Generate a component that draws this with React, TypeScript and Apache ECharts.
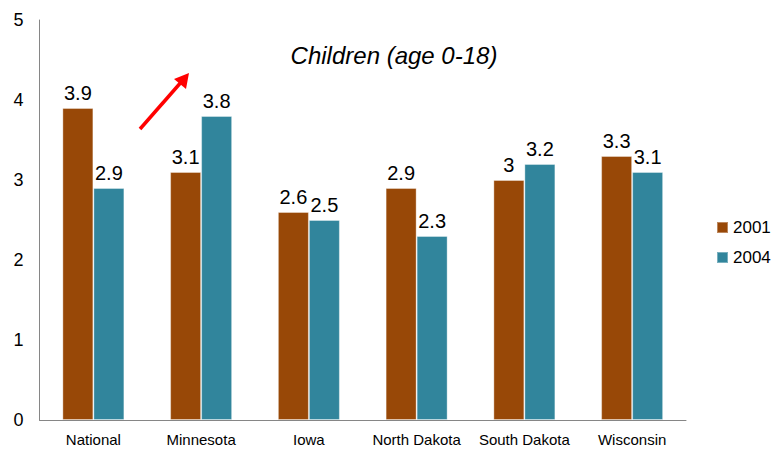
import React, { useEffect, useRef } from "react";
import * as echarts from "echarts";

const categories = ["National", "Minnesota", "Iowa", "North Dakota", "South Dakota", "Wisconsin"];
const values2001 = [3.9, 3.1, 2.6, 2.9, 3.0, 3.3];
const values2004 = [2.9, 3.8, 2.5, 2.3, 3.2, 3.1];
const seriesNames = ["2001", "2004"];
const titleText = "Children (age 0-18)";

const FONT = "'Liberation Sans', Arial, sans-serif";

export default function App() {
  const ref = useRef<HTMLDivElement>(null);
  useEffect(() => {
    if (!ref.current) return;
    const chart = echarts.init(ref.current, null, { renderer: "svg" });
    const label = {
      show: true,
      position: "top",
      distance: 5,
      fontSize: 20,
      fontFamily: FONT,
      color: "#000",
      formatter: (p: any) => String(p.value),
    };
    chart.setOption({
      animation: false,
      backgroundColor: "#fff",
      title: {
        text: titleText,
        left: 389,
        top: 38,
        textAlign: "center",
        textStyle: { fontSize: 24, fontStyle: "italic", fontWeight: "normal", fontFamily: FONT, color: "#000" },
      },
      legend: {
        orient: "vertical",
        left: 716,
        top: 219,
        padding: 0,
        itemWidth: 11,
        itemHeight: 11,
        itemGap: 13,
        icon: "rect",
        textStyle: { fontSize: 17, fontFamily: FONT, color: "#000", overflow: "none" },
        data: seriesNames,
      },
      grid: { left: 39.5, right: 88, top: 20, bottom: 33, containLabel: false },
      xAxis: {
        type: "category",
        data: categories,
        axisLine: { lineStyle: { color: "#868686", width: 1 } },
        axisTick: { show: false },
        axisLabel: { fontSize: 15, fontFamily: FONT, color: "#000", margin: 12, interval: 0 },
      },
      yAxis: {
        type: "value",
        min: 0,
        max: 5,
        interval: 1,
        axisLine: { show: true, lineStyle: { color: "#868686", width: 1 } },
        axisTick: { show: false },
        splitLine: { show: false },
        axisLabel: { fontSize: 18, fontFamily: FONT, color: "#000", margin: 16 },
      },
      graphic: [
        {
          type: "line",
          shape: { x1: 140, y1: 129, x2: 183, y2: 80 },
          style: { stroke: "#ff0000", lineWidth: 3.5 },
        },
        {
          type: "polygon",
          shape: { points: [[189, 73], [174, 79], [186, 89]] },
          style: { fill: "#ff0000" },
        },
      ],
      series: [
        {
          name: seriesNames[0],
          type: "bar",
          data: values2001,
          barWidth: 31,
          barGap: "0%",
          itemStyle: { color: "#984807", borderColor: "rgba(255,255,255,0.35)", borderWidth: 1 },
          label,
        },
        {
          name: seriesNames[1],
          type: "bar",
          data: values2004,
          barWidth: 31,
          barGap: "0%",
          itemStyle: { color: "#31859C", borderColor: "rgba(255,255,255,0.35)", borderWidth: 1 },
          label,
        },
      ],
    });
    return () => chart.dispose();
  }, []);
  return (
    <div
      ref={ref}
      style={{ position: "absolute", left: 0, top: 0, width: 774, height: 453 }}
    />
  );
}
